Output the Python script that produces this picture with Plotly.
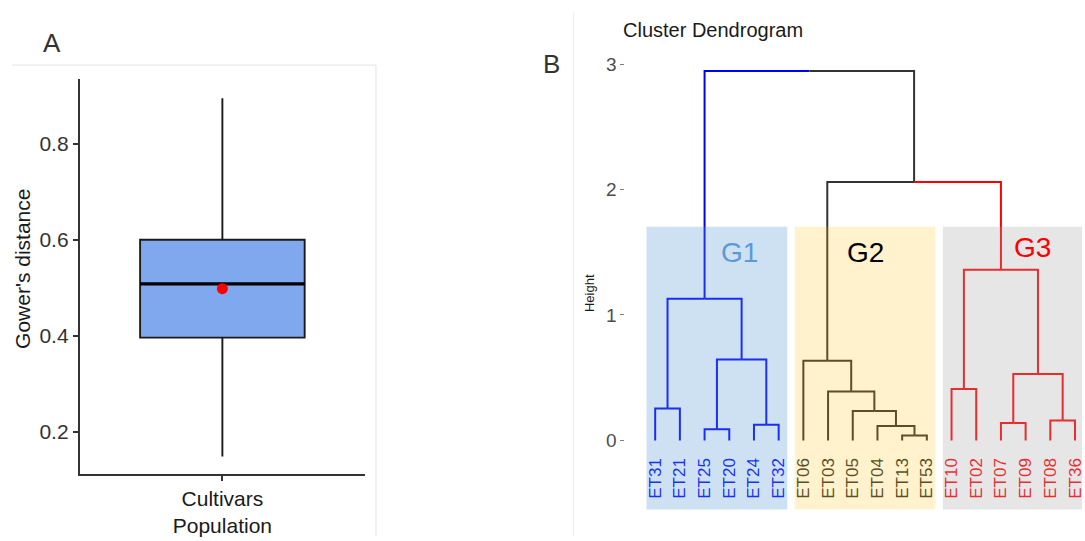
import plotly.graph_objects as go

# ---------------- Panel A data (box plot of Gower's distance) ----------------
box_category = ["Cultivars<br>Population"]
box_lowerfence = [0.148]
box_q1 = [0.396]
box_median = [0.508]
box_q3 = [0.600]
box_upperfence = [0.895]
box_mean = [0.498]
a_ticks = [0.2, 0.4, 0.6, 0.8]

# ---------------- Panel B data (cluster dendrogram) ----------------
leaf_labels = ["ET31", "ET21", "ET25", "ET20", "ET24", "ET32",
               "ET06", "ET03", "ET05", "ET04", "ET13", "ET53",
               "ET10", "ET02", "ET07", "ET09", "ET08", "ET36"]
leaf_group = ["G1", "G1", "G1", "G1", "G1", "G1",
              "G2", "G2", "G2", "G2", "G2", "G2",
              "G3", "G3", "G3", "G3", "G3", "G3"]
# hclust-style merges: negative = leaf position (1-based), positive = earlier merge row
merge_left = [-11, -3, -10, -5, -15, -17, -9, -1, -8, -13, 5, -7, 2, 8, 10, 12, 14]
merge_right = [-12, -4, 1, -6, -16, -18, 3, -2, 7, -14, 6, 9, 4, 13, 11, 15, 16]
merge_height = [0.04, 0.09, 0.115, 0.125, 0.14, 0.16, 0.235, 0.255, 0.39, 0.41,
                0.53, 0.635, 0.645, 1.13, 1.36, 2.06, 2.945]
group_names = ["G1", "G2", "G3"]
b_ticks = [0, 1, 2, 3]

# ---------------- styles ----------------
FONT = "Liberation Sans, Arial, sans-serif"
branch_color = {"G1": "#0000FF", "G2": "#333333", "G3": "#FF0000", None: "#333333"}
group_label_color = {"G1": "#5B9BD5", "G2": "#000000", "G3": "#FF0000"}
group_rect_color = {"G1": "rgba(91,155,213,0.30)", "G2": "rgba(255,192,0,0.20)",
                    "G3": "rgba(165,165,165,0.28)"}
group_label_pos = {"G1": (4.43, 1.50), "G2": (9.52, 1.50), "G3": (16.27, 1.54)}

W, H = 1085, 541

def px_x(p):
    return p / W

def px_y(p):
    return 1 - p / H

fig = go.Figure()

# ---------------- Panel A ----------------
box_half = 0.577
fig.add_trace(go.Box(
    x=[0], q1=box_q1, median=box_median, q3=box_q3,
    lowerfence=box_lowerfence, upperfence=box_upperfence,
    width=2 * box_half, whiskerwidth=0, boxpoints=False,
    fillcolor="#80A8EE", line=dict(color="#1a1a1a", width=1.9),
    xaxis="x", yaxis="y", showlegend=False, hoverinfo="skip"))
fig.add_trace(go.Scatter(
    x=[-box_half, box_half], y=[box_median[0], box_median[0]], mode="lines",
    line=dict(color="#000000", width=3.2), xaxis="x", yaxis="y",
    showlegend=False, hoverinfo="skip"))
fig.add_trace(go.Scatter(
    x=[0], y=box_mean, mode="markers", marker=dict(color="#FF0000", size=11),
    xaxis="x", yaxis="y", showlegend=False, hoverinfo="skip"))

# ---------------- Panel B: dendrogram geometry ----------------
n = len(leaf_labels)
node_x, node_h, node_col = {}, {}, {}
for i in range(n):
    node_x[-(i + 1)] = i + 1
    node_h[-(i + 1)] = 0.0
    node_col[-(i + 1)] = leaf_group[i]

segs = {}
for k in range(len(merge_left)):
    a, b = merge_left[k], merge_right[k]
    key = k + 1
    xk = (node_x[a] + node_x[b]) / 2
    hk = merge_height[k]
    node_x[key], node_h[key] = xk, hk
    node_col[key] = node_col[a] if node_col[a] == node_col[b] else None
    for c in (a, b):
        col = branch_color[node_col[c]]
        xs, ys = segs.setdefault(col, ([], []))
        xs += [node_x[c], node_x[c], xk, None]
        ys += [node_h[c], hk, hk, None]

for col, (xs, ys) in segs.items():
    fig.add_trace(go.Scatter(
        x=xs, y=ys, mode="lines", line=dict(color=col, width=2),
        xaxis="x2", yaxis="y2", showlegend=False, hoverinfo="skip"))

ticktext_b = ["<span style='color:%s'>%s</span>" % (branch_color[g], lab)
              for lab, g in zip(leaf_labels, leaf_group)]

# ---------------- shapes ----------------
shapes = []
# panel A background frame (top + right edges)
shapes.append(dict(type="line", xref="paper", yref="paper", x0=px_x(12), x1=px_x(377),
                   y0=px_y(63), y1=px_y(63), line=dict(color="#E3E3E3", width=1)))
shapes.append(dict(type="line", xref="paper", yref="paper", x0=px_x(377), x1=px_x(377),
                   y0=px_y(63), y1=0, line=dict(color="#E3E3E3", width=1)))
# panel B divider
shapes.append(dict(type="line", xref="paper", yref="paper", x0=px_x(575), x1=px_x(575),
                   y0=px_y(10), y1=0, line=dict(color="#EBEBEB", width=1)))
# group rectangles (translucent, drawn above branches)
for gi, g in enumerate(group_names):
    idx = [i + 1 for i, lg in enumerate(leaf_group) if lg == g]
    shapes.append(dict(type="rect", xref="x2", yref="paper",
                       x0=min(idx) - 0.35, x1=max(idx) + 0.35,
                       y0=px_y(514), y1=px_y(227), layer="above",
                       fillcolor=group_rect_color[g], line=dict(width=0)))

# ---------------- annotations ----------------
def txt(text, x, y, size, color, angle=0, xanchor="center", xref="paper", yref="paper"):
    return dict(text=text, x=x, y=y, xref=xref, yref=yref, xanchor=xanchor,
                yanchor="middle", textangle=angle, showarrow=False,
                font=dict(family=FONT, size=size, color=color))

ann = [
    txt("A", px_x(52), px_y(41), 26, "#333333"),
    txt("B", px_x(553), px_y(62), 26, "#333333"),
    txt("Gower's distance", px_x(22), px_y(270), 21, "#1a1a1a", angle=-90),
    txt("Cluster Dendrogram", px_x(623), px_y(27), 20, "#1a1a1a", xanchor="left"),
    txt("Height", px_x(591), px_y(294), 13, "#1a1a1a", angle=-90),
]
for g in group_names:
    gx, gy = group_label_pos[g]
    ann.append(txt(g, gx, gy, 28, group_label_color[g], xref="x2", yref="y2"))

# ---------------- layout ----------------
fig.update_layout(
    width=W, height=H, autosize=False,
    margin=dict(l=0, r=0, t=0, b=0),
    paper_bgcolor="white", plot_bgcolor="rgba(0,0,0,0)",
    shapes=shapes, annotations=ann,
    xaxis=dict(domain=[px_x(80), px_x(366)], range=[-1, 1],
               tickvals=[0], ticktext=box_category, ticks="outside", ticklen=5,
               tickcolor="#333333", tickwidth=1.5,
               showline=True, linecolor="#333333", linewidth=2,
               showgrid=False, zeroline=False,
               tickfont=dict(family=FONT, size=21, color="#1a1a1a"), anchor="y"),
    yaxis=dict(domain=[px_y(478), px_y(77)], range=[0.1117, 0.9356],
               tickvals=a_ticks, ticktext=["%.1f" % v for v in a_ticks],
               ticks="outside", ticklen=5, tickcolor="#333333", tickwidth=1.5,
               showline=True, linecolor="#333333", linewidth=2,
               showgrid=False, zeroline=False,
               tickfont=dict(family=FONT, size=21, color="#333333"), anchor="x"),
    xaxis2=dict(domain=[px_x(627), 1.0], range=[-0.2116, 18.283],
                tickvals=list(range(1, n + 1)), ticktext=ticktext_b, tickangle=-90,
                ticks="outside", ticklen=4, tickcolor="rgba(0,0,0,0)",
                ticklabeloverflow="allow",
                showline=False, showgrid=False, zeroline=False,
                tickfont=dict(family=FONT, size=17), anchor="y2"),
    yaxis2=dict(domain=[px_y(450), px_y(55)], range=[-0.047, 3.055],
                tickvals=b_ticks, ticks="outside", ticklen=4, tickcolor="#7F7F7F",
                tickwidth=1, showline=False, showgrid=False, zeroline=False,
                tickfont=dict(family=FONT, size=19, color="#4D4D4D"), anchor="x2"),
)

fig.write_html("out.html", config={"displayModeBar": False},
               post_script="document.body.style.margin='0px';document.body.style.padding='0px';")
